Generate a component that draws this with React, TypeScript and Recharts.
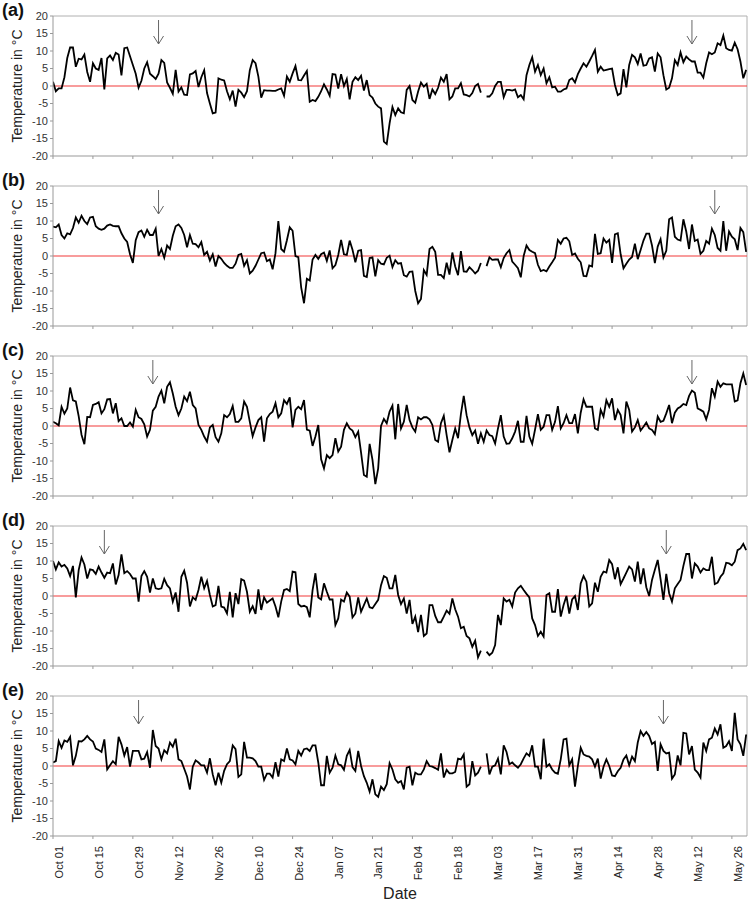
import React from 'react';
import { LineChart, Line, XAxis, YAxis, ReferenceLine, ReferenceDot } from 'recharts';

const TICK_LABELS = ['Oct 01', 'Oct 15', 'Oct 29', 'Nov 12', 'Nov 26', 'Dec 10', 'Dec 24', 'Jan 07', 'Jan 21',
  'Feb 04', 'Feb 18', 'Mar 03', 'Mar 17', 'Mar 31', 'Apr 14', 'Apr 28', 'May 12', 'May 26'];
const TICK_DAYS = TICK_LABELS.map((_, i) => i * 14);
const Y_TICKS = [-20, -15, -10, -5, 0, 5, 10, 15, 20];
const X_MAX = 243.3;

const PANEL_A = [
  1.2, -1.5, -0.7, -0.7, 2.5, 8, 11, 11, 5.5, 7.8,
  7.6, 9, 4, 1.2, 6.5, 5, 4.6, 8, -1, 7.9,
  8.7, 7.4, 9.5, 9, 3, 10.8, 11, 8.5, 6, 3.5,
  -0.5, 1.5, 5, 6.8, 3.5, 2.8, 2, 3.5, 7.4, 6.6,
  1, -0.5, -2.2, 4.6, -1.6, -0.4, -2.5, -2.6, 3.3, 3.6,
  4.3, -0.3, 2.5, 4.5, -2, -5, -7.8, -7.6, 2.2, 1.8,
  1.6, -1.5, -3.8, -1.3, -5.9, -1.1, -1.9, -3.2, -1.5, 4.5,
  7.4, 6.5, 2.7, -3.3, -1.2, -1.3, -1.3, -1.4, -1.4, -1,
  -0.7, -2.8, 2.7, 1.2, 3.6, 5.7, 1.7, 1.6, 3, 4.3,
  -4.5, -4, -4.3, -3.1, -1.5, 0.5, -1, -2.8, 3.4, 3.3,
  -0.7, 3.4, 0, 2, -3.8, 1.2, 2.5, 1.7, 2.9, -1.3,
  1.7, -2.6, -3.3, -5, -5.9, -6.4, -15.9, -16.6, -10.7, -6,
  -8.3, -6.4, -7.5, -7.8, -1.1, 0, -4, -4.8, -1.6, 1,
  -0.2, 0.6, -3.7, -1, -2.3, -0.5, 2.4, 1.2, 3.4, -3.8,
  -3, -0.7, -0.7, 0.8, -2.4, -2.6, -3, -2, 0, 0.6,
  -1.9, null, -3, -3, -2.1, 0, 1.2, 1.2, -3.2, -1.1,
  -1.1, -1.3, -1, -3.2, -2.6, -3.8, 3.1, 6, 8.2, 4.1,
  6, 3.1, 5, 0.8, 2.5, -0.4, -0.2, -1.6, -1.6, -1,
  -0.7, 1.7, 2.2, 1, 3.4, 5, 6.5, 5.5, 7, 8.6,
  10.3, 4.1, 5.5, 4.4, 4.6, 4.8, 5, 0.3, -2.6, -2.1,
  4.8, -0.4, 6, 8.9, 8.2, 6.3, 9.3, 5.8, 6, 7.9,
  8.2, 4.1, 9.3, 8.2, 3.1, -1, -0.5, 2.2, 7.4, 6,
  9.6, 6.8, 8.4, 7.6, 7, 7, 3.8, 3.8, 2.4, 6.5,
  9.6, 9.1, 9.6, 12.2, 11.7, 14.4, 10.8, 10.3, 10.1, 12.4,
  10.5, 7, 2.2, 4.6,
];

const PANEL_B = [
  8.4, 8.2, 9, 6, 5, 6.5, 6.2, 8, 11, 9.5,
  11.5, 10, 9.1, 11, 11.2, 8.5, 7.8, 7.5, 7.8, 8.7,
  9, 8.6, 8.5, 8.5, 6.5, 5, 4, 0.5, -2, 4.5,
  6.8, 7.3, 5.5, 7.5, 6, 6, 7.8, 0, 2, -0.5,
  3, 2, 5.8, 8.5, 9, 8, 6, 2.5, 6, 3.5,
  3.4, 2.5, 4, 0.3, 1.2, -1.3, 0.5, -3, 0, -0.8,
  -2, -2.8, -3.4, -3.4, -2.2, 0.3, 0.6, -2.8, -1.2, -5,
  -4.2, -2.8, -1, 0.8, 1, -1.5, -1, -3.8, 0.8, 10,
  2, 1.2, 4.5, 8.2, 7.2, 0, -0.3, -9, -13.5, -6.5,
  -7, -1, 0.3, -0.8, 0.5, 1, -1.4, 1.6, -3.5, -2.6,
  0.3, 4.6, 0.5, 0.3, 4.4, 1.8, -1.8, 1.5, 1.7, -5.7,
  -6, -0.6, -0.4, -5.8, -1.2, -2.2, -2.4, -0.5, 0.1, -3.2,
  -1.2, -2.2, -2, -5.5, -5.9, -4.5, -4.4, -10, -13.5, -12.3,
  -4, -5.4, 2, 2.6, 1.2, -5.4, -5.4, -6.3, -1.9, -5.3,
  1, -3, -5.5, 1.4, -4.4, -4.5, -3.2, -4, -5, -4.2,
  -2, null, -2.9, -0.4, -1.1, -1, -1, -3.2, -0.6, 0.8,
  1.7, -1.6, -2.5, -3.5, -6.1, 0, 3, 1.7, 1.2, 0.8,
  -2.5, -4.3, -4, -4.4, -3, -1.8, -0.5, 4.6, 3.5, 5,
  5.2, 4.2, 0.3, 0.7, -0.8, -1.8, -5.7, -5.8, -2.7, -3,
  6.3, 0.6, 0.8, 5, 3.8, 4.6, -2, 6.2, 6.5, 0.5,
  -3.5, -2.2, -1, -0.3, 3.5, -0.9, 1.7, 4.4, 6.4, 6.4,
  3, -2, 2.7, 4.8, -0.4, 1.5, 10.5, 11, 5.5, 4.7,
  4.4, 10.5, 7, 2, 9, 4.3, 4.7, 0.6, 1.5, 4.3,
  3.5, 7.8, 6, 2.3, 1.5, 10, 1.5, 7, 5.5, 4.8,
  1.7, 8, 6.8, 1.2,
];

const PANEL_C = [
  1.2, 0.8, 0.2, 5.5, 3.5, 5, 11, 7.3, 7, 2.8,
  -2.5, -5.2, 2.6, 2.5, 6, 6.3, 6.8, 3.6, 4.8, 7.6,
  7.7, 3.6, 6.5, 1.4, 2.2, 0, 0, 1, -0.2, 4.6,
  2.5, 2, 0.5, -3, -1.1, 4.4, 5.5, 8.4, 10.1, 6.5,
  11.2, 12.5, 9.3, 5.5, 3.1, 5, 8.4, 7.1, 9.8, 6,
  5, 0.3, -1.1, -3, -4.5, -0.4, 0.3, -3.2, -4.5, -2.1,
  3.1, 2.5, 3.4, 5.7, 1.2, 1.2, 2.2, 7, 5.5, 1.2,
  -2.9, -0.4, 1.7, 2.5, -4.5, 2.2, 3.4, 4.1, 6.5, 2.5,
  3.6, 7.4, 6.3, 8.2, -0.4, 4.6, 5.5, 4.8, 7.4, -1,
  -1.3, -5.7, -3, 0.3, -9.5, -12.1, -8.3, -9.2, -8.3, -3.5,
  -7.3, -5.9, -1.1, 0.8, -0.7, -1.3, -3.2, -1.6, -7.6, -14,
  -14.5, -5.1, -9.7, -16.6, -12.1, 0, 2, 0.8, 4.1, 5.8,
  -3.8, 6.3, -0.7, 1.2, 6, 1.7, -0.4, -1.6, 2.5, 1.9,
  2.5, 2.5, 1.9, 0.3, -4, -4.5, 0.8, 2.9, -2.6, -7.5,
  -4, -0.7, -3.5, 3.4, 8.6, 3.1, -0.4, -2.6, -1.3, -5.1,
  -2.1, -4.5, -1.3, -2.6, -2.9, -5, -0.7, 3.1, -3, -5.1,
  -5, -3.5, -1.6, 1.5, -4.5, -4.5, 2.9, -3, -5.1, -1,
  3.4, -1.1, -0.2, 3.1, 3.1, -1.1, 1.2, 5.7, -0.7, 0.8,
  3.1, 0.8, 0.8, 3.4, -2.1, 3.8, 7.6, 5.5, 5.5, 5.5,
  -0.7, -1.1, 4.6, 2.7, 7.4, 5.5, 7.9, 1.7, 4.6, 3.1,
  -2.1, 7, 4.6, -1.6, -0.4, 1.7, -1.3, -0.2, 1, -0.7,
  -1.1, -2.3, 2.7, 1.2, 1.5, 3.6, 6, 0.8, 3.8, 5,
  5.5, 6.3, 6, 8.6, 10.1, 9.5, 5, 4.6, 4.1, 1.9,
  4.6, 10.8, 8.4, 12.7, 11.2, 12.2, 11.9, 11.9, 11.9, 7,
  7.3, 12.2, 15, 11.7,
];

const PANEL_D = [
  10, 7.6, 9.6, 8.4, 8.9, 7.9, 5.7, 8.6, -0.4, 7.4,
  11, 9, 5, 7.6, 7.4, 6.3, 8.4, 6.7, 5.2, 6.7,
  6.5, 9.3, 3.3, 6, 11.9, 6.5, 7.1, 6.3, 5, 5,
  -1.6, 5.7, 7.1, 5.5, 1, 5, 2.2, 2, 2.2, 4.9,
  3.1, 2.2, -1.6, 1, -4.5, 5.5, 7.2, 3.8, -3, -0.4,
  -1.1, 1.7, 5.5, 2.2, 4.3, 0.3, -3, -2.6, 2.9, -3,
  -3.3, -5, 1.2, -6.1, 0.8, -2.3, 4.8, 4.4, 1.2, -4.5,
  -2.9, -5.1, 1.9, -4, -0.4, -1.9, -1.3, -0.7, -3, -6.1,
  -1.6, 1.7, 2, 1.4, 7, 6.8, -2.3, -3, -2.8, -3.2,
  -6.1, 1.7, 6.5, -0.4, -1, 3.6, 1.2, -1, -1, -8.3,
  -6.4, -1, -1.6, 1, -0.2, -6.1, -5, -0.4, -4.5, -2.6,
  -0.7, -3.2, -3.5, -2.3, -1.1, 3.1, 5.7, 5.2, 2.2, 2.2,
  6, 0.3, -2.3, -0.7, -5, -1.1, -8, -5.9, -10.3, -5.4,
  -11.4, -10.7, -2.6, -2.6, -5.7, -7.5, -7.5, -5.9, -4.2, -5.1,
  -0.7, -3.8, -5.9, -9.2, -8.8, -11.4, -12.1, -14.5, -12.8, -17.5,
  -15.6, null, -15.9, -16.9, -16.2, -14, -5.4, -8.3, -0.7, -1.6,
  -1.1, -3, 1, 2.2, 2.9, 1.7, 0.6, -0.4, -6.4, -8.3,
  -11.4, -10.2, -11.6, 0.3, 0.8, -4.5, -4.5, 2, -5.9, -2.6,
  0, -5, -1, 0, -4, 3.6, 5.7, 4.1, -3, -2.1,
  3.8, 1.2, 5.5, 7, 6.7, 10.3, 9.1, 4.8, 8.2, 3.4,
  5, 6.7, 8.4, 7.6, 4.1, 9.8, 3.4, 7.9, 2.5, 0,
  4.6, 7.5, 10.3, 4.8, -1.1, 6.3, 0.8, -1.6, 2.2, 3.4,
  4.6, 8.6, 12, 12, 5, 9.3, 8.4, 6.7, 7.9, 7.4,
  7.4, 11.2, 3.4, 3.8, 5.5, 6.5, 9.5, 9.3, 8.8, 9.8,
  13.1, 13.6, 14.9, 13.1,
];

const PANEL_E = [
  1, 1.4, 7.1, 5.2, 7.3, 6.9, 8.3, 0.2, 2.9, 7.1,
  7, 7.6, 8.6, 7.6, 7, 5, 4.6, 4, 7.6, -1,
  0.2, 1.4, 0.5, 8.3, 6.2, 3, 5.4, -0.2, 4.3, 4.3,
  4.3, 1.9, 2.1, 4, -0.5, 10.3, 5.7, 5, 1.9, 4.5,
  3.6, 6.7, 5.5, 7.8, 1.9, 1.4, -0.8, -3, -6.7, -0.2,
  1.6, 1, 0.2, 0.2, -1.9, 2.2, -2.4, -5.5, -1.9, -4.8,
  -1.4, 0.5, 1.4, 5.9, 4.8, -3.1, -2.4, 6.9, 2.4, 2.4,
  2.2, 1.4, -0.2, -0.2, -4, -2.2, -2.2, -3.3, 1.1, -3,
  1.9, 1.4, 5, 1.9, 1.6, 0.5, 4.3, 3, 4.8, 5,
  4.3, 5.9, 5.9, 1, -5.5, -5.5, 2.9, -1.9, -0.5, 3,
  0.5, 0.2, -1.1, 2.9, 4.6, -0.3, -1.4, 4.3, 0, -2.9,
  -4.8, -7.3, -3.8, -8.1, -8.8, -5.9, -6.9, -5.2, 0.8, -1,
  -3.8, -4.8, -4.3, -6.7, -0.5, -0.2, -5.5, -1.9, -2.4, -2.4,
  -1, 1.4, 0, -0.2, -0.6, -1.1, 3.6, -3.3, -1.1, -2.1,
  -2.1, -1.7, 2.1, 1.9, 3.3, -5.9, -5.2, 1.4, -2.7, -1.9,
  -0.2, null, 3.6, -2.4, -0.2, 0.2, 2.1, -2.4, 5.9, 4,
  0.5, 1, 0.2, -0.5, 0.5, 2.2, 3.6, 2.9, 5.9, -0.2,
  -0.2, -3.8, 7.8, -0.2, 0.5, -1, -1.9, -2.2, 1.9, 7.6,
  7.8, 0.2, 1.9, -5.9, 0, 5.2, 3.3, 2.9, 2.7, 1.9,
  -0.2, 2.1, -3.6, -0.2, 1.9, 0, -2.7, -2.9, -1.5, -0.5,
  1.9, 3, 0.2, 2.7, 1.4, 6.7, 10, 8.6, 9.7, 8.6,
  6.3, 6.9, -1.4, 6.2, 4.3, 3.6, 3.8, -3.6, -2.4, 3,
  0.2, 9.5, 9.3, 3.3, 5.7, -1, -1.9, -3.3, 6.7, 4.3,
  7.6, 8.1, 10.7, 9, 11.9, 5.2, 5.7, 7.1, 4.3, 15.2,
  7.6, 6.2, 2.9, 9,
];

const ARROWS_A = [37, 224];
const ARROWS_B = [37, 232];
const ARROWS_C = [35, 224];
const ARROWS_D = [18, 215];
const ARROWS_E = [30, 214];

const DATA = PANEL_A.map((v, i) => ({
  day: i,
  a: v,
  b: PANEL_B[i],
  c: PANEL_C[i],
  d: PANEL_D[i],
  e: PANEL_E[i],
}));

const Arrow = (props: any) => {
  const { cx, cy } = props;
  if (cx == null || cy == null) return <g />;
  return (
    <g stroke="#666" strokeWidth={1} fill="none">
      <line x1={cx} y1={cy - 24} x2={cx} y2={cy} />
      <polyline points={`${cx - 5},${cy - 8} ${cx},${cy} ${cx + 5},${cy - 8}`} />
    </g>
  );
};

const NoTick = () => <g />;

const DateTick = (props: any) => {
  const { x, y, payload } = props;
  const idx = Math.round(payload.value / 14);
  const ax = x + 10;
  const ay = y + 5;
  return (
    <text x={ax} y={ay} transform={`rotate(-90 ${ax} ${ay})`} textAnchor="end" fontSize={11} fill="#222">
      {TICK_LABELS[idx]}
    </text>
  );
};

const makeYLabel = (letter: string) => () => (
  <g>
    <text x={2} y={16} fontSize={18} fontWeight="bold" fill="#111">{`(${letter})`}</text>
    <text
      x={17}
      y={86}
      transform="rotate(-90 17 86)"
      textAnchor="middle"
      dominantBaseline="central"
      fontSize={14}
      fill="#222"
    >
      Temperature in °C
    </text>
  </g>
);

type PanelProps = { dataKey: string; letter: string; arrows: number[]; last?: boolean };

const Panel = ({ dataKey, letter, arrows, last }: PanelProps) => (
  <LineChart
    width={749}
    height={last ? 225 : 170}
    data={DATA}
    margin={{ top: 16, right: 2, bottom: 0, left: 0 }}
  >
    <XAxis
      dataKey="day"
      type="number"
      domain={[0, X_MAX]}
      ticks={TICK_DAYS}
      interval={0}
      height={last ? 69 : 14}
      tickSize={3}
      stroke="#999"
      tick={last ? DateTick : NoTick}
      allowDataOverflow
      label={last ? { value: 'Date', position: 'insideBottom', offset: 6, fontSize: 16, fill: '#222' } : undefined}
    />
    <YAxis
      type="number"
      domain={[-20, 20]}
      ticks={Y_TICKS}
      interval={0}
      width={53}
      tickSize={3}
      stroke="#999"
      tick={{ fontSize: 11, fill: '#333' }}
      allowDataOverflow
      label={makeYLabel(letter)}
    />
    <ReferenceLine y={20} stroke="#b0b0b0" />
    <ReferenceLine x={X_MAX} stroke="#b0b0b0" />
    <ReferenceLine y={0} stroke="#f23a3a" strokeWidth={1.2} />
    <Line
      dataKey={dataKey}
      type="linear"
      stroke="#000"
      strokeWidth={1.8}
      dot={false}
      activeDot={false}
      connectNulls={false}
      isAnimationActive={false}
    />
    {arrows.map((d) => (
      <ReferenceDot key={d} x={d} y={12} r={0} shape={Arrow} />
    ))}
  </LineChart>
);

export default function App() {
  const panels = [
    { dataKey: 'a', letter: 'a', arrows: ARROWS_A },
    { dataKey: 'b', letter: 'b', arrows: ARROWS_B },
    { dataKey: 'c', letter: 'c', arrows: ARROWS_C },
    { dataKey: 'd', letter: 'd', arrows: ARROWS_D },
    { dataKey: 'e', letter: 'e', arrows: ARROWS_E },
  ];
  return (
    <div
      style={{
        position: 'absolute',
        left: 0,
        top: 0,
        width: 749,
        height: 905,
        background: '#fff',
        overflow: 'hidden',
        fontFamily: '"Liberation Sans", Arial, sans-serif',
      }}
    >
      {panels.map((p, i) => (
        <div key={p.letter} style={{ position: 'absolute', left: 0, top: i * 170 }}>
          <Panel {...p} last={i === 4} />
        </div>
      ))}
    </div>
  );
}
